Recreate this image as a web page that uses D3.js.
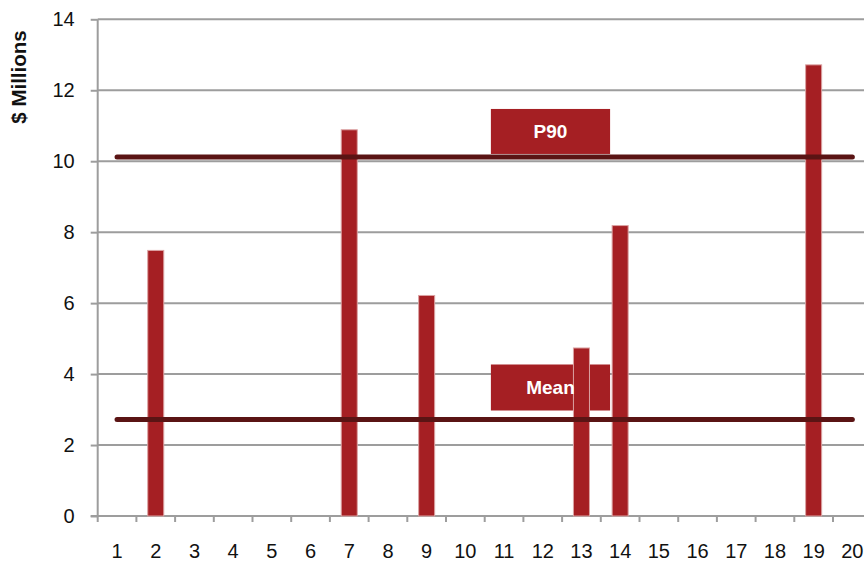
<!DOCTYPE html>
<html>
<head>
<meta charset="utf-8">
<script src="https://cdn.jsdelivr.net/npm/d3@7"></script>
<style>
  html, body { margin: 0; padding: 0; background: #ffffff; }
  svg { display: block; font-family: Arial, "Liberation Sans", sans-serif; }
</style>
</head>
<body>
<svg id="chart" width="864" height="563"></svg>
<script>
// Simulation runs 1..20 and the loss recorded in each ($ millions)
const categories = ["1","2","3","4","5","6","7","8","9","10","11","12","13","14","15","16","17","18","19","20"];
const values     = [0, 7.50, 0, 0, 0, 0, 10.90, 0, 6.23, 0, 0, 0, 4.75, 8.20, 0, 0, 0, 0, 12.73, 0];
const yTicks     = [0, 2, 4, 6, 8, 10, 12, 14];
// Reference levels drawn across the runs
const refNames   = ["P90", "Mean"];
const refValues  = [10.12, 2.72];

(function draw() {
  const svg = d3.select("#chart");
  const plotLeft = 97.7, plotRight = 871.7, plotTop = 19.3, plotBottom = 516;

  const x = d3.scaleBand().domain(categories).range([plotLeft, plotRight])
    .paddingInner(0.56).paddingOuter(0.28);
  const y = d3.scaleLinear().domain([0, 14]).range([plotBottom, plotTop]);

  const grey = "#9d9d9d";
  const barFill = "#a51f23";
  const lineCol = "#5a1414";
  const fontFam = "Arial, 'Liberation Sans', sans-serif";
  const tickFont = 20;

  // horizontal gridlines
  svg.append("g").selectAll("line").data(yTicks.filter(d => d > 0)).join("line")
    .attr("x1", plotLeft).attr("x2", 864)
    .attr("y1", d => y(d)).attr("y2", d => y(d))
    .attr("stroke", grey).attr("stroke-width", 2);

  // y axis
  const yAxis = svg.append("g").attr("transform", `translate(${plotLeft},0)`)
    .call(d3.axisLeft(y).tickValues(yTicks).tickSize(7).tickPadding(16));
  yAxis.select(".domain").attr("stroke", grey).attr("stroke-width", 2)
    .attr("d", `M0,${plotTop}V${plotBottom}`);
  yAxis.selectAll(".tick line").attr("stroke", grey).attr("stroke-width", 2);
  yAxis.selectAll(".tick text").attr("font-size", tickFont).attr("fill", "#111")
    .style("font-family", fontFam);

  // x axis: baseline, boundary ticks and centred run labels
  const step = x.step();
  const xg = svg.append("g");
  xg.append("line").attr("x1", plotLeft - 7).attr("x2", 864)
    .attr("y1", plotBottom).attr("y2", plotBottom)
    .attr("stroke", grey).attr("stroke-width", 2);
  xg.selectAll("line.b").data(d3.range(categories.length + 1)).join("line")
    .attr("class", "b")
    .attr("x1", i => plotLeft + i * step).attr("x2", i => plotLeft + i * step)
    .attr("y1", plotBottom).attr("y2", plotBottom + 6)
    .attr("stroke", grey).attr("stroke-width", 2);
  const xAxis = svg.append("g").attr("transform", `translate(0,${plotBottom})`)
    .call(d3.axisBottom(x).tickSize(0).tickPadding(28));
  xAxis.select(".domain").remove();
  xAxis.selectAll(".tick text").attr("font-size", tickFont).attr("fill", "#111")
    .style("font-family", fontFam);

  // y axis title
  svg.append("text")
    .attr("transform", "translate(25.5,77) rotate(-90)")
    .attr("text-anchor", "middle")
    .attr("font-size", 20.5).attr("font-weight", "bold").attr("fill", "#111")
    .text("$ Millions");

  // label boxes for the reference lines
  const boxX0 = plotLeft + 10.16 * step;
  const boxX1 = plotLeft + 13.24 * step;
  const boxOffsets = [{ top: -48, h: 45 }, { top: -55, h: 46 }];
  svg.append("g").selectAll("rect").data(refValues).join("rect")
    .attr("x", boxX0).attr("y", (d, i) => y(d) + boxOffsets[i].top)
    .attr("width", boxX1 - boxX0).attr("height", (d, i) => boxOffsets[i].h)
    .attr("fill", barFill);

  // bars
  svg.append("g").selectAll("rect")
    .data(categories.map((c, i) => ({ c, v: values[i] })).filter(d => d.v > 0))
    .join("rect")
    .attr("x", d => x(d.c) + 0.5).attr("width", x.bandwidth() - 1)
    .attr("y", d => y(d.v) + 0.5).attr("height", d => plotBottom - y(d.v) - 0.5)
    .attr("fill", barFill).attr("stroke", "#dba3a3").attr("stroke-width", 1);

  // box captions
  svg.append("g").selectAll("text").data(refValues).join("text")
    .attr("x", (boxX0 + boxX1) / 2)
    .attr("y", (d, i) => y(d) + boxOffsets[i].top + boxOffsets[i].h / 2)
    .attr("dy", "0.36em").attr("text-anchor", "middle")
    .attr("font-size", 19).attr("font-weight", "bold").attr("fill", "#ffffff")
    .text((d, i) => refNames[i]);

  // reference lines spanning run 1 to run 20
  svg.append("g").selectAll("line").data(refValues).join("line")
    .attr("x1", x(categories[0]) + x.bandwidth() / 2)
    .attr("x2", x(categories[categories.length - 1]) + x.bandwidth() / 2)
    .attr("y1", d => y(d)).attr("y2", d => y(d))
    .attr("stroke", lineCol).attr("stroke-width", 5).attr("stroke-linecap", "round");
})();
</script>
</body>
</html>
